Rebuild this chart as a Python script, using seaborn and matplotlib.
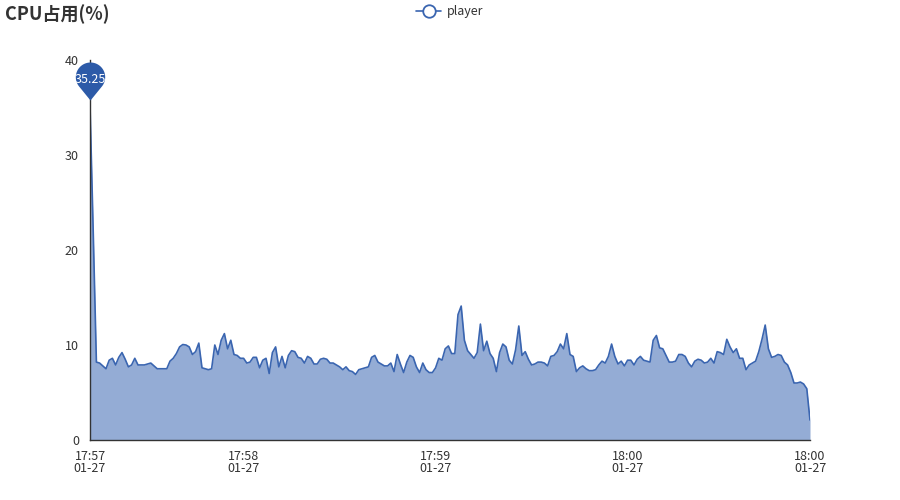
import matplotlib
matplotlib.use("Agg")
import matplotlib.pyplot as plt
from matplotlib.path import Path
from matplotlib.lines import Line2D
import numpy as np
import pandas as pd
import seaborn as sns

# ---- data ----
seconds = list(range(12, 238))  # seconds after 17:57:00, one sample per second
cpu = [
    35.25, 22.0, 8.2, 8.1, 7.8, 7.5, 8.4, 8.6, 7.9, 8.7,
    9.2, 8.5, 7.7, 7.9, 8.6, 7.9, 7.9, 7.9, 8.0, 8.1,
    7.8, 7.5, 7.5, 7.5, 7.5, 8.3, 8.6, 9.1, 9.8, 10.05,
    10.0, 9.8, 9.0, 9.3, 10.2, 7.6, 7.5, 7.4, 7.5, 10.0,
    9.0, 10.5, 11.2, 9.6, 10.5, 9.0, 8.9, 8.6, 8.6, 8.1,
    8.2, 8.7, 8.7, 7.6, 8.4, 8.6, 7.0, 9.2, 9.8, 7.7,
    8.8, 7.6, 8.9, 9.4, 9.3, 8.7, 8.6, 8.1, 8.8, 8.6,
    8.0, 8.0, 8.5, 8.6, 8.5, 8.1, 8.1, 7.9, 7.7, 7.4,
    7.7, 7.3, 7.2, 6.9, 7.4, 7.5, 7.6, 7.7, 8.7, 8.9,
    8.2, 8.0, 7.8, 7.8, 8.1, 7.2, 9.0, 8.0, 7.1, 8.2,
    8.9, 8.7, 7.7, 7.1, 8.1, 7.4, 7.1, 7.1, 7.6, 8.6,
    8.4, 9.6, 9.9, 9.1, 9.1, 13.2, 14.1, 10.5, 9.4, 9.0,
    8.6, 9.2, 12.2, 9.4, 10.4, 9.1, 8.6, 7.2, 9.2, 10.1,
    9.8, 8.4, 8.0, 9.5, 12.0, 8.9, 9.3, 8.5, 7.9, 8.0,
    8.2, 8.2, 8.1, 7.8, 8.8, 8.9, 9.3, 10.1, 9.6, 11.2,
    9.0, 8.8, 7.2, 7.6, 7.8, 7.5, 7.3, 7.3, 7.4, 7.9,
    8.3, 8.1, 8.8, 10.1, 8.8, 8.0, 8.3, 7.8, 8.4, 8.4,
    7.9, 8.5, 8.8, 8.4, 8.3, 8.2, 10.5, 11.0, 9.7, 9.6,
    8.9, 8.2, 8.2, 8.3, 9.0, 9.0, 8.8, 8.1, 7.7, 8.3,
    8.5, 8.4, 8.1, 8.2, 8.6, 8.1, 9.3, 9.2, 9.0, 10.6,
    9.8, 9.2, 9.6, 8.6, 8.6, 7.4, 7.9, 8.1, 8.3, 9.3,
    10.6, 12.1, 9.6, 8.7, 8.8, 9.0, 8.9, 8.2, 7.9, 7.1,
    6.0, 6.0, 6.1, 5.9, 5.4, 2.1,
]
series_name = "player"
title = "CPU占用(%)"
tick_seconds = [12, 60, 120, 180, 237]
tick_labels = ["17:57\n01-27", "17:58\n01-27", "17:59\n01-27", "18:00\n01-27", "18:00\n01-27"]
y_ticks = [0, 10, 20, 30, 40]

df = pd.DataFrame({"t": seconds, "cpu": cpu})

# ---- style ----
sns.set_style("white")
plt.rcParams["font.family"] = ["Noto Sans CJK SC", "DejaVu Sans"]

LINE = "#3a65b0"
FILL = "#94acd5"
PIN = "#2c5aa8"
TXT = "#333333"

fig = plt.figure(figsize=(9, 5), dpi=100)
ax = fig.add_axes([0.1, 0.12, 0.8, 0.76])

ax.fill_between(df["t"], 0, df["cpu"], color=FILL, linewidth=0, zorder=1)
sns.lineplot(data=df, x="t", y="cpu", ax=ax, color=LINE, linewidth=1.2, zorder=2)

ax.set_xlim(seconds[0], seconds[-1])
ax.set_ylim(0, 40)
ax.set_xticks(tick_seconds)
ax.set_xticklabels(tick_labels, linespacing=0.95)
ax.set_yticks(y_ticks)
ax.set_xlabel("")
ax.set_ylabel("")

for s in ["top", "right"]:
    ax.spines[s].set_visible(False)
for s in ["left", "bottom"]:
    ax.spines[s].set_color("#333333")
    ax.spines[s].set_linewidth(1.0)
ax.tick_params(axis="both", direction="out", length=5, width=1, color="#333333",
               labelsize=9, labelcolor=TXT, pad=3)
ax.tick_params(axis="x", pad=2)

# ---- max pin marker ----
imax = int(np.argmax(cpu))
r, c, tip = 14.7, 28.3, 5.0
alpha = np.arccos(r / (c - tip))
angles = np.linspace(-np.pi / 2 + alpha, 3 * np.pi / 2 - alpha, 60)
verts = [(0.0, tip)] + [(r * np.cos(a), c + r * np.sin(a)) for a in angles] + [(0.0, tip)]
codes = [Path.MOVETO] + [Path.LINETO] * (len(verts) - 2) + [Path.CLOSEPOLY]
pin_path = Path(verts, codes)
ext = max(abs(v) for p in verts for v in p)
ms = ext * 0.72 * 2
ax.plot([seconds[imax]], [cpu[imax]], marker=pin_path, markersize=ms, color=PIN,
        markeredgewidth=0, linestyle="none", zorder=5, clip_on=False)
ax.annotate(f"{cpu[imax]:.2f}", xy=(seconds[imax], cpu[imax]), xytext=(0, 26 * 0.72),
            textcoords="offset points", ha="center", va="center", color="white",
            fontsize=9, zorder=6, annotation_clip=False)

# ---- title & legend ----
fig.text(0.006, 0.972, title, fontsize=13, fontweight="bold", color=TXT, ha="left", va="center")
handle = Line2D([0], [0], color=LINE, linewidth=1.2, marker="o", markersize=9,
                markerfacecolor="white", markeredgecolor=LINE, markeredgewidth=1.3)
fig.legend([handle], [series_name], loc="center", bbox_to_anchor=(0.5, 0.977),
           frameon=False, fontsize=9, labelcolor=TXT, handlelength=2.0, handletextpad=0.5)

fig.savefig("out.png", dpi=100)
